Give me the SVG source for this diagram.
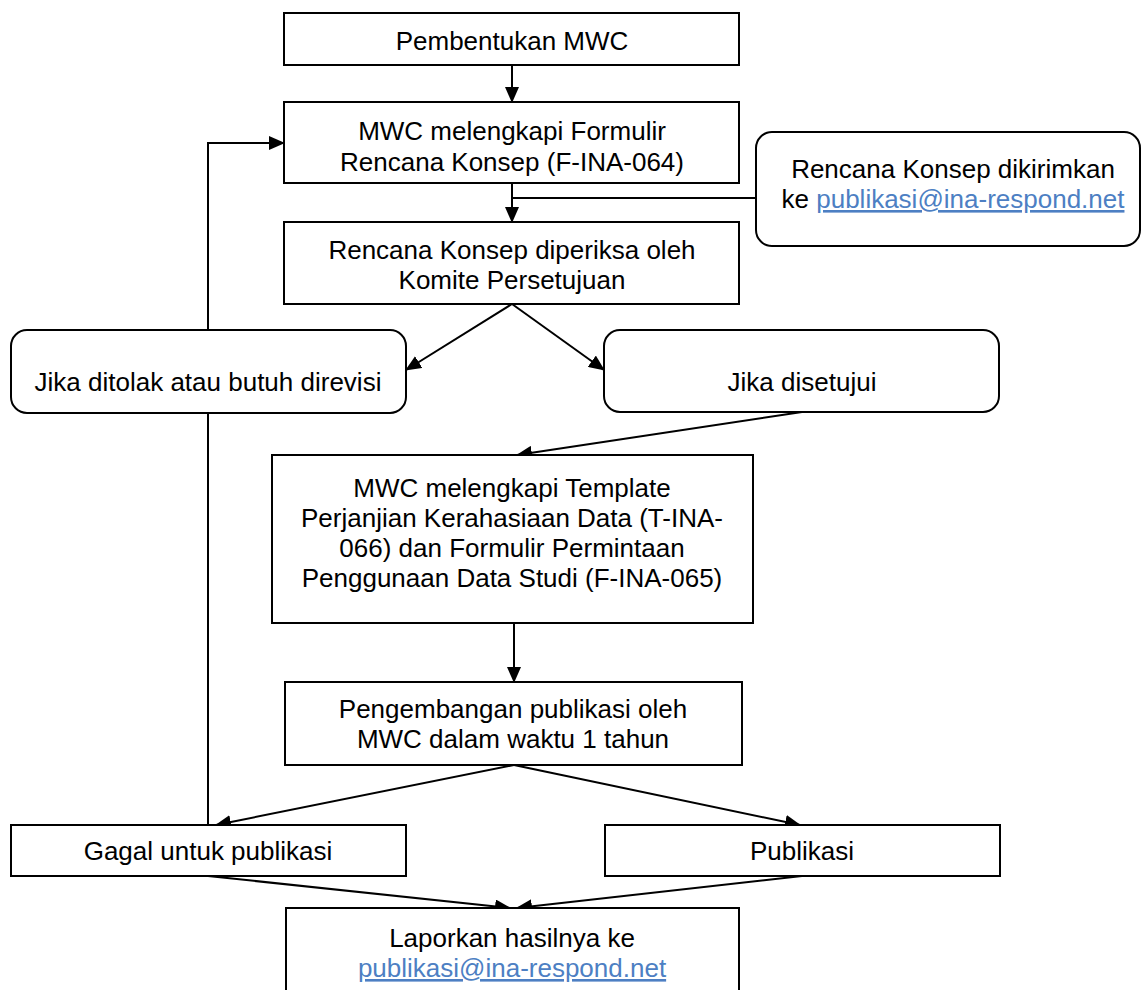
<svg xmlns="http://www.w3.org/2000/svg" width="1142" height="990" viewBox="0 0 1142 990">
<style>
.box{fill:#fff;stroke:#000;stroke-width:2}
.t{font-family:"Liberation Sans",Arial,sans-serif;font-size:26px;fill:#000;text-anchor:middle}
.lnk{fill:#4d7fc3;text-decoration:underline}
.c{fill:none;stroke:#000;stroke-width:2}
</style>
<defs>
<marker id="ah" markerUnits="userSpaceOnUse" markerWidth="16" markerHeight="14" refX="15" refY="7" orient="auto">
<path d="M0,0 L16,7 L0,14 z" fill="#000"/>
</marker>
</defs>
<rect width="1142" height="990" fill="#fff"/>
<g id="connectors">
<line class="c" x1="512" y1="65" x2="512" y2="102" marker-end="url(#ah)"/>
<line class="c" x1="512" y1="183" x2="512" y2="222" marker-end="url(#ah)"/>
<line class="c" x1="756" y1="198" x2="512" y2="198"/>
<line class="c" x1="512" y1="304" x2="406" y2="370" marker-end="url(#ah)"/>
<line class="c" x1="512" y1="304" x2="604" y2="370" marker-end="url(#ah)"/>
<polyline class="c" points="208,330 208,143 284,143" marker-end="url(#ah)"/>
<line class="c" x1="208" y1="413" x2="208" y2="825"/>
<line class="c" x1="802" y1="412" x2="517" y2="455" marker-end="url(#ah)"/>
<line class="c" x1="514" y1="623" x2="514" y2="682" marker-end="url(#ah)"/>
<line class="c" x1="514" y1="765" x2="216" y2="825" marker-end="url(#ah)"/>
<line class="c" x1="514" y1="765" x2="800" y2="825" marker-end="url(#ah)"/>
<line class="c" x1="208" y1="876" x2="510" y2="908" marker-end="url(#ah)"/>
<line class="c" x1="802" y1="876" x2="517" y2="908" marker-end="url(#ah)"/>
</g>
<g id="n1"><rect class="box" x="284" y="13" width="455" height="52"/><text class="t" x="512" y="50">Pembentukan MWC</text></g>
<g id="n2"><rect class="box" x="284" y="102" width="455" height="81"/><text class="t" x="512" y="140">MWC melengkapi Formulir</text><text class="t" x="512" y="171">Rencana Konsep (F-INA-064)</text></g>
<g id="n3"><rect class="box" x="756" y="132" width="384" height="114" rx="16"/><text class="t" x="953" y="178">Rencana Konsep dikirimkan</text><text class="t" x="953" y="208">ke <tspan class="lnk">publikasi@ina-respond.net</tspan></text></g>
<g id="n4"><rect class="box" x="284" y="222" width="455" height="82"/><text class="t" x="512" y="259">Rencana Konsep diperiksa oleh</text><text class="t" x="512" y="289">Komite Persetujuan</text></g>
<g id="n5"><rect class="box" x="11" y="330" width="395" height="83" rx="16"/><text class="t" x="208" y="391">Jika ditolak atau butuh direvisi</text></g>
<g id="n6"><rect class="box" x="604" y="330" width="395" height="82" rx="16"/><text class="t" x="802" y="391">Jika disetujui</text></g>
<g id="n7"><rect class="box" x="272" y="455" width="481" height="168"/><text class="t" x="512" y="497">MWC melengkapi Template</text><text class="t" x="512" y="527">Perjanjian Kerahasiaan Data (T-INA-</text><text class="t" x="512" y="557">066) dan Formulir Permintaan</text><text class="t" x="512" y="587">Penggunaan Data Studi (F-INA-065)</text></g>
<g id="n8"><rect class="box" x="285" y="682" width="457" height="83"/><text class="t" x="513" y="718">Pengembangan publikasi oleh</text><text class="t" x="513" y="748">MWC dalam waktu 1 tahun</text></g>
<g id="n9"><rect class="box" x="11" y="825" width="395" height="51"/><text class="t" x="208" y="860">Gagal untuk publikasi</text></g>
<g id="n10"><rect class="box" x="605" y="825" width="395" height="51"/><text class="t" x="802" y="860">Publikasi</text></g>
<g id="n11"><rect class="box" x="286" y="908" width="453" height="100"/><text class="t" x="512" y="947">Laporkan hasilnya ke</text><text class="t" x="512" y="977"><tspan class="lnk">publikasi@ina-respond.net</tspan></text></g>
</svg>
